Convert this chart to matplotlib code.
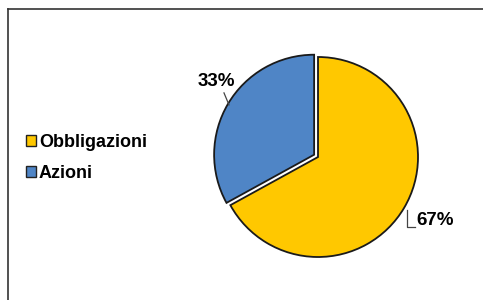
import numpy as np
import matplotlib
matplotlib.use("Agg")
from matplotlib import pyplot as plt
from matplotlib.lines import Line2D
from matplotlib.patches import Rectangle

labels = ["Obbligazioni", "Azioni"]
values = [67, 33]
colors = ["#FFC800", "#4F85C6"]
explode = [0, 0.045]

plt.rcParams["font.family"] = ["Liberation Sans", "DejaVu Sans"]

W, H = 483, 300
fig = plt.figure(figsize=(W / 100, H / 100), dpi=100)

# chart frame (only left/top edges visible)
fig.add_artist(Line2D([8 / W, 8 / W], [0, 1 - 9 / H], color="#333333", lw=1.2))
fig.add_artist(Line2D([8 / W, 1], [1 - 9 / H, 1 - 9 / H], color="#333333", lw=1.2))

cx, cy, r = 318, 157, 100
ax = fig.add_axes([(cx - r) / W, (H - cy - r) / H, 2 * r / W, 2 * r / H])

wedges, _ = ax.pie(values, colors=colors, explode=explode, startangle=90,
                   counterclock=False, radius=1,
                   wedgeprops=dict(edgecolor="#1a1a1a", linewidth=1.3, clip_on=False))
ax.set_xlim(-1, 1)
ax.set_ylim(-1, 1)
ax.axis("off")

total = sum(values)
# percentage labels with leader lines
for i, w in enumerate(wedges):
    mid = np.deg2rad((w.theta1 + w.theta2) / 2)
    pct = f"{round(values[i] / total * 100)}%"
    if np.cos(mid) > 0:
        lx, ly = 1.30 * np.cos(mid), 1.30 * np.sin(mid) + 0.03
        ax.text(lx - 0.14, ly, pct, ha="left", va="center", fontsize=13.5,
                fontweight="bold", clip_on=False)
        ax.plot([lx - 0.23, lx - 0.23, lx - 0.15], [ly + 0.1, ly - 0.07, ly - 0.07],
                color="#444444", lw=0.9, clip_on=False)
    else:
        lx, ly = 1.22 * np.cos(mid) + 0.03, 1.22 * np.sin(mid) + 0.13
        ax.text(lx, ly, pct, ha="center", va="center", fontsize=13.5,
                fontweight="bold", clip_on=False)
        ax.plot([lx + 0.08, lx + 0.13], [ly - 0.11, ly - 0.23],
                color="#444444", lw=0.9, clip_on=False)

handles = [Rectangle((0, 0), 1, 1, facecolor=c, edgecolor="#222222", lw=1) for c in colors]
fig.legend(handles, labels, loc="center left", bbox_to_anchor=(10 / W, 1 - 158 / H),
           frameon=False, handlelength=0.55, handleheight=0.55, handletextpad=0.15,
           labelspacing=0.75, prop=dict(weight="bold", size=13))

fig.savefig("out.png", dpi=100)
